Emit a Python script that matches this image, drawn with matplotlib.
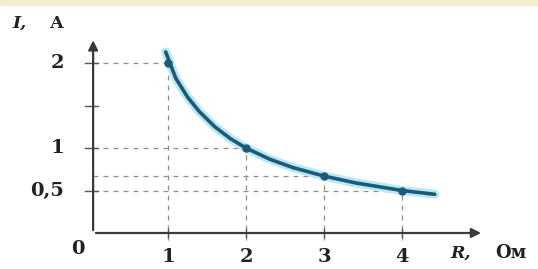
import matplotlib.pyplot as plt
from matplotlib.patches import Rectangle

# -------------------
# Data
# -------------------
r_points = [1, 2, 3, 4]
i_points = [2, 1, 0.67, 0.5]

# curve samples
r_curve = [0.97, 1.1, 1.25, 1.4, 1.6, 1.8, 2.0, 2.3, 2.6, 3.0, 3.4, 3.8, 4.0, 4.42]
i_curve = [2.13, 1.82, 1.6, 1.43, 1.25, 1.11, 1.0, 0.87, 0.77, 0.67, 0.59, 0.53, 0.5, 0.455]

x_ticks = [1, 2, 3, 4]
x_labels = ["1", "2", "3", "4"]
y_ticks = [2, 1, 0.5]
y_labels = ["2", "1", "0,5"]
y_minor = [1.5]

fig = plt.figure(figsize=(5.38, 2.69), dpi=100)
ax = fig.add_axes([0, 0, 1, 1])
ax.set_xlim(-90 / 78, 448 / 78)
ax.set_ylim(-36 / 85, 233 / 85)
ax.axis("off")

# faint yellow band along the top
fig.patches.append(Rectangle((0, 0.983), 1, 0.017, transform=fig.transFigure,
                             color="#f7ecd4", zorder=0))

font = {"family": "DejaVu Serif", "weight": "bold", "size": 14}
txt_col = "#222222"
axis_col = "#555555"
dash_col = "#8f8f8f"

# axes with arrows
ax.annotate("", xy=(0.04, 2.3), xytext=(0.04, 0),
            arrowprops=dict(arrowstyle="-|>", color="#3a3a3a", lw=1.6,
                            mutation_scale=14))
ax.annotate("", xy=(5.05, 0), xytext=(0.04, 0),
            arrowprops=dict(arrowstyle="-|>", color="#3a3a3a", lw=1.6,
                            mutation_scale=14))

# dashed guide lines
for r, i in zip(r_points, i_points):
    ax.plot([0.04, r], [i, i], ls=(0, (4, 4)), color=dash_col, lw=0.9)
    ax.plot([r, r], [-0.08, i], ls=(0, (4, 4)), color=dash_col, lw=0.9)

# tick marks
for t in x_ticks:
    ax.plot([t, t], [-0.05, 0.05], color=axis_col, lw=1)
for t in y_ticks + y_minor:
    ax.plot([-0.06, 0.1], [t, t], color=axis_col, lw=1)

# curve with glow
ax.plot(r_curve, i_curve, color="#b8e8f6", lw=6.5, solid_capstyle="round")
ax.plot(r_curve, i_curve, color="#1e5a78", lw=2.6, solid_capstyle="round")
ax.plot(r_points, i_points, "o", color="#1e5a78", ms=5)

# labels
for t, lab in zip(x_ticks, x_labels):
    ax.text(t, -0.28, lab, ha="center", va="center", color=txt_col, **font)
for t, lab in zip(y_ticks, y_labels):
    ax.text(-0.33, t, lab, ha="right", va="center", color=txt_col, **font)
ax.text(-0.16, -0.19, "0", ha="center", va="center", color=txt_col, **font)

ax.text(-1.0, 2.47, "I,", ha="left", va="center", color=txt_col,
        style="italic", **{**font, "size": 12.5})
ax.text(-0.52, 2.47, "А", ha="left", va="center", color=txt_col,
        **{**font, "size": 12.5})
ax.text(4.62, -0.24, "R,", ha="left", va="center", color=txt_col,
        style="italic", **{**font, "size": 12.5})
ax.text(5.2, -0.24, "Ом", ha="left", va="center", color=txt_col,
        **{**font, "size": 13})

fig.savefig("out.png", dpi=100)
